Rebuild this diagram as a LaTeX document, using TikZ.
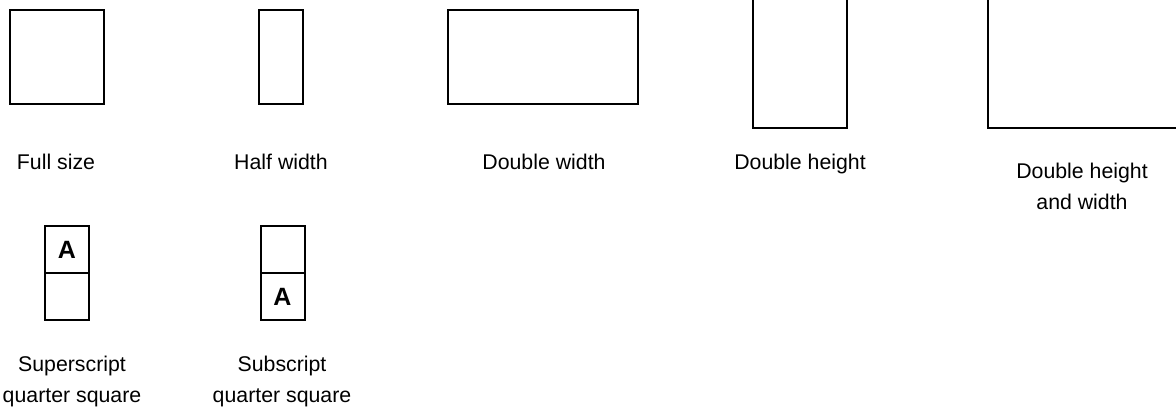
\documentclass[tikz,border=0pt]{standalone}
\usepackage{fontspec}
\setmainfont{Liberation Sans}
\usepackage{tikz}
\usetikzlibrary{positioning}

\begin{document}
\begin{tikzpicture}[x=1pt, y=-1pt,
    cell/.style={rectangle, draw, line width=2pt, outer sep=0pt,
                 inner sep=0pt, minimum width=94pt, minimum height=94pt},
    half/.style={cell, minimum width=44pt, minimum height=47pt,
                 font=\fontsize{25}{25}\selectfont\bfseries},
    caption/.style={font=\fontsize{21.3}{31}\selectfont, align=center},
    oneline/.style={caption, anchor=base},
  ]
  \clip (0,0) rectangle (1176,409);

  % Obicne velicine
  \node[cell] (full) at (57,57) {};
  \node[cell, minimum width=44pt] (halfw) at (281,57) {};
  \node[cell, minimum width=190pt] (dblw) at (542.5,57) {};

  % Dvostruka visina (odrezano gore)
  \node[cell, minimum height=190pt] (dblh) at (800,33) {};
  \node[cell, minimum width=190pt, minimum height=190pt] (dblhw) at (1083,33) {};

  % Natpisi
  \node[oneline] (fulltxt) at (56,170) {Full size};
  \node[oneline] (halfwtxt) at (281,170) {Half width};
  \node[oneline] (dblwtxt) at (544,170) {Double width};
  \node[oneline] (dblhtxt) at (800,170) {Double height};
  \node[caption] (dblhwtxt) at (1082,186) {Double height\\and width};

  % Cetvrtine
  \node[half] (supup) at (67,249.5) {A};
  \node[half, below=0pt of supup] (suplow) {};
  \node[half] (subup) at (282.5,249.5) {};
  \node[half, below=0pt of subup] (sublow) {A};

  \node[caption] (suptxt) at (72,381) {Superscript\\quarter square};
  \node[caption] (subtxt) at (282,381) {Subscript\\quarter square};
\end{tikzpicture}
\end{document}
